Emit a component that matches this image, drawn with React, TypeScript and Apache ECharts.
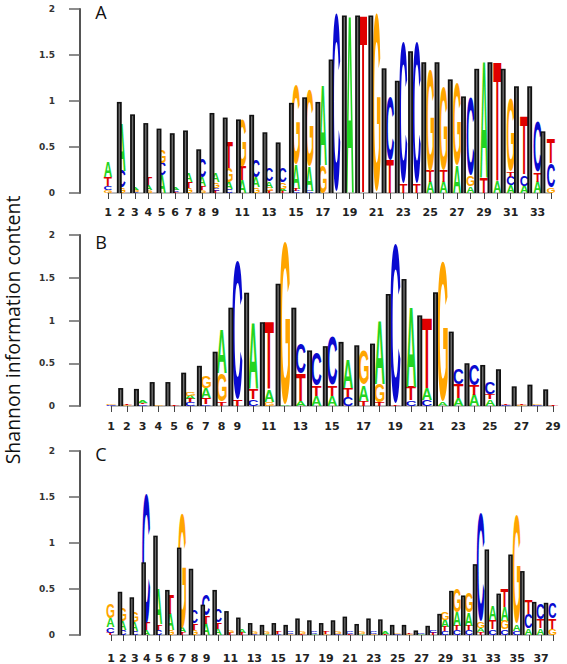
import React, { useEffect, useRef } from "react";
import * as echarts from "echarts";

type Stack = [string, number][];

const panelLabels = ["A", "B", "C"];
const yTitle = "Shannon information content";

// ---------- Panel A (34 positions) ----------
const barsA: (number | null)[] = [
  null, 0.99, 0.855, 0.76, 0.7, 0.65, 0.68, 0.475, 0.87, 0.82, 0.8, 0.85, 0.66, 0.55, 0.98, 1.04, 0.99,
  1.45, 1.93, 1.93, 1.93, 1.355, 1.22, 1.54, 1.42, 1.42, 1.235, 1.05, 1.35, 1.42, 1.35, 1.16, 1.16, 0.67,
];
const stacksA: Stack[] = [
  [["G", 0.03], ["C", 0.04], ["T", 0.1], ["A", 0.17]],
  [["G", 0.06], ["C", 0.18], ["A", 0.52]],
  [["C", 0.01], ["G", 0.02], ["A", 0.02]],
  [["G", 0.03], ["A", 0.06], ["T", 0.08]],
  [["A", 0.19], ["C", 0.14], ["G", 0.14]],
  [["T", 0.01], ["C", 0.02], ["A", 0.02]],
  [["G", 0.05], ["T", 0.07], ["A", 0.1]],
  [["G", 0.03], ["T", 0.04], ["A", 0.1], ["C", 0.2]],
  [["T", 0.02], ["C", 0.03], ["G", 0.06], ["A", 0.1]],
  [["C", 0.04], ["A", 0.08], ["G", 0.15], ["T", 0.28]],
  [["A", 0.14], ["T", 0.15], ["G", 0.52]],
  [["G", 0.06], ["A", 0.11], ["C", 0.18]],
  [["T", 0.02], ["G", 0.04], ["A", 0.07], ["C", 0.14]],
  [["T", 0.02], ["A", 0.03], ["G", 0.07], ["C", 0.15]],
  [["C", 0.02], ["T", 0.02], ["A", 0.27], ["G", 0.86]],
  [["C", 0.02], ["A", 0.27], ["G", 0.83]],
  [["G", 0.3], ["A", 0.87]],
  [["C", 1.93]],
  [["A", 1.93]],
  [["T", 1.93]],
  [["G", 1.93]],
  [["T", 0.36], ["C", 0.69]],
  [["T", 0.1], ["C", 1.53]],
  [["T", 0.1], ["C", 1.53]],
  [["A", 0.12], ["T", 0.12], ["G", 1.1]],
  [["A", 0.12], ["T", 0.12], ["G", 0.9]],
  [["A", 0.3], ["G", 0.89]],
  [["A", 0.07], ["G", 0.12], ["C", 0.84]],
  [["T", 0.17], ["A", 1.27]],
  [["A", 0.12], ["T", 1.3]],
  [["A", 0.08], ["C", 0.1], ["T", 0.06], ["G", 0.78]],
  [["A", 0.08], ["C", 0.12], ["T", 0.63]],
  [["A", 0.12], ["T", 0.1], ["C", 0.55]],
  [["G", 0.06], ["C", 0.26], ["T", 0.26]],
];

// ---------- Panel B (29 positions) ----------
const barsB: (number | null)[] = [
  null, 0.21, 0.2, 0.28, 0.28, 0.39, 0.47, 0.635, 1.15, 1.325, 0.98, 1.43, 1.15, 0.65, 0.7, 0.75, 0.71,
  0.73, 1.31, 1.485, 1.06, 1.33, 0.87, 0.5, 0.48, 0.43, 0.23, 0.25, 0.195,
];
const stacksB: Stack[] = [
  [["C", 0.01], ["G", 0.02]],
  [["G", 0.01], ["T", 0.02]],
  [["C", 0.02], ["T", 0.02], ["A", 0.03]],
  [["G", 0.01]],
  [["T", 0.01]],
  [["C", 0.04], ["T", 0.04], ["A", 0.04], ["G", 0.05]],
  [["C", 0.02], ["T", 0.07], ["A", 0.12], ["G", 0.14]],
  [["T", 0.05], ["G", 0.33], ["A", 0.51]],
  [["T", 0.08], ["C", 1.62]],
  [["C", 0.08], ["T", 0.12], ["A", 0.77]],
  [["G", 0.05], ["A", 0.14], ["T", 0.79]],
  [["A", 0.02], ["G", 1.9]],
  [["A", 0.06], ["T", 0.31], ["C", 0.36]],
  [["A", 0.12], ["T", 0.12], ["C", 0.38]],
  [["A", 0.12], ["T", 0.12], ["C", 0.57]],
  [["C", 0.1], ["T", 0.1], ["A", 0.34]],
  [["T", 0.06], ["A", 0.18], ["G", 0.4]],
  [["T", 0.04], ["G", 0.22], ["A", 0.74]],
  [["T", 0.02], ["C", 1.86]],
  [["C", 0.06], ["T", 0.16], ["A", 0.94]],
  [["C", 0.07], ["A", 0.14], ["T", 0.82]],
  [["A", 0.05], ["G", 1.64]],
  [["A", 0.09], ["T", 0.16], ["C", 0.18]],
  [["A", 0.13], ["T", 0.12], ["C", 0.25]],
  [["A", 0.08], ["T", 0.06], ["C", 0.13]],
  [["C", 0.01], ["T", 0.01]],
  [["G", 0.01], ["T", 0.01]],
  [["C", 0.01], ["G", 0.01]],
  [["T", 0.01]],
];

// ---------- Panel C (38 positions) ----------
const barsC: (number | null)[] = [
  null, 0.47, 0.41, 0.79, 1.08, 0.49, 0.95, 0.72, 0.33, 0.49, 0.26, 0.19, 0.13, 0.11, 0.13, 0.11, 0.18,
  0.16, 0.13, 0.16, 0.2, 0.12, 0.18, 0.17, 0.11, 0.11, 0.05, 0.1, 0.23, 0.48, 0.43, 0.77, 0.93, 0.45,
  0.875, 0.695, 0.36, 0.35,
];
const stacksC: Stack[] = [
  [["T", 0.02], ["C", 0.06], ["A", 0.1], ["G", 0.15]],
  [["C", 0.05], ["A", 0.1], ["G", 0.14]],
  [["C", 0.04], ["A", 0.1], ["G", 0.12]],
  [["A", 0.05], ["T", 0.08], ["C", 1.41]],
  [["C", 0.06], ["T", 0.06], ["A", 0.38]],
  [["G", 0.05], ["A", 0.18], ["T", 0.21]],
  [["T", 0.03], ["A", 0.05], ["G", 1.25]],
  [["G", 0.06], ["T", 0.07], ["C", 0.14]],
  [["A", 0.12], ["T", 0.09], ["C", 0.23]],
  [["A", 0.07], ["T", 0.07], ["C", 0.14]],
  [["T", 0.02], ["G", 0.03]],
  [["T", 0.02], ["A", 0.04]],
  [["C", 0.01], ["G", 0.02]],
  [["A", 0.01], ["G", 0.02]],
  [["C", 0.01], ["T", 0.02]],
  [["G", 0.01], ["C", 0.02]],
  [["T", 0.01], ["G", 0.02]],
  [["A", 0.01], ["C", 0.02]],
  [["G", 0.01], ["T", 0.02]],
  [["C", 0.01], ["G", 0.02]],
  [["T", 0.01], ["C", 0.02]],
  [["A", 0.01], ["G", 0.02]],
  [["G", 0.01], ["C", 0.02]],
  [["T", 0.01], ["A", 0.02]],
  [["C", 0.01], ["G", 0.01]],
  [["G", 0.01], ["T", 0.01]],
  [["A", 0.01], ["C", 0.01]],
  [["T", 0.02], ["C", 0.03]],
  [["C", 0.04], ["T", 0.05], ["A", 0.08], ["G", 0.09]],
  [["C", 0.05], ["T", 0.05], ["A", 0.15], ["G", 0.25]],
  [["C", 0.05], ["T", 0.05], ["A", 0.14], ["G", 0.22]],
  [["T", 0.03], ["A", 0.04], ["G", 0.07], ["C", 1.17]],
  [["C", 0.06], ["T", 0.1], ["A", 0.16]],
  [["C", 0.06], ["G", 0.1], ["A", 0.15], ["T", 0.2]],
  [["C", 0.04], ["A", 0.07], ["G", 1.17]],
  [["A", 0.07], ["C", 0.16], ["T", 0.16]],
  [["A", 0.07], ["T", 0.1], ["C", 0.17]],
  [["G", 0.07], ["T", 0.11], ["C", 0.17]],
];

const panelBars = [barsA, barsB, barsC];
const panelStacks = [stacksA, stacksB, stacksC];

const LETTER_COLORS: Record<string, string> = {
  A: "#22d422",
  C: "#0a0ad0",
  G: "#ffa500",
  T: "#e00000",
};
const LETTER_FONT = "Liberation Sans";
const LETTER_SIZE = 100;

// layout per panel
const LAYOUT = [
  { top: 9, height: 184, left: 108, right: 16, xOff: 9, yOff: 28, lblMargin: 5, barMin: 1.1465, barMax: 34.61, barW: 0.37, letC: 0, letW: 0.6, lab: [101, 11.5] },
  { top: 235, height: 171, left: 111, right: 14, xOff: 8, yOff: 31, lblMargin: 7, barMin: 1.3837, barMax: 29.465, barW: 0.32, letC: 0.01, letW: 0.64, lab: [101, 241.5] },
  { top: 451, height: 185, left: 111, right: 14, xOff: 10, yOff: 31, lblMargin: 8, barMin: 1.2397, barMax: 38.59, barW: 0.38, letC: -0.05, letW: 0.66, lab: [101, 453.5] },
];

function measureLetters() {
  const c = document.createElement("canvas");
  const ctx = c.getContext("2d") as CanvasRenderingContext2D;
  ctx.font = `bold ${LETTER_SIZE}px "${LETTER_FONT}"`;
  ctx.textAlign = "center";
  ctx.textBaseline = "alphabetic";
  const m: Record<string, { a: number; d: number; l: number; r: number }> = {};
  let fa = 0;
  let fd = 0;
  for (const L of ["A", "C", "G", "T"]) {
    const t = ctx.measureText(L);
    m[L] = {
      a: t.actualBoundingBoxAscent,
      d: t.actualBoundingBoxDescent,
      l: t.actualBoundingBoxLeft,
      r: t.actualBoundingBoxRight,
    };
    fa = t.fontBoundingBoxAscent;
    fd = t.fontBoundingBoxDescent;
  }
  return { m, fa, fd };
}

export default function App() {
  const ref = useRef<HTMLDivElement>(null);
  useEffect(() => {
    if (!ref.current) return;
    const chart = echarts.init(ref.current, null, { renderer: "svg" });
    const { m: metrics, fa, fd } = measureLetters();
    // local y of the alphabetic baseline for a text drawn with vertical align "middle" at y=0
    const calib = { base: (fa - fd) / 2 };

    const buildOption = () => {
      const grids: any[] = [];
      const xAxes: any[] = [];
      const yAxes: any[] = [];
      const series: any[] = [];

      LAYOUT.forEach((L, i) => {
        const n = panelStacks[i].length;
        grids.push({ left: L.left, right: L.right, top: L.top, height: L.height });
        xAxes.push({
          gridIndex: i,
          type: "value",
          min: 1,
          max: n,
          interval: 1,
          position: "bottom",
          offset: L.xOff,
          splitLine: { show: false },
          axisLine: { show: true, lineStyle: { color: "#a8a8a8", width: 1.5 } },
          axisTick: { show: true, length: 6, lineStyle: { color: "#444", width: 1 } },
          axisLabel: {
            margin: L.lblMargin,
            fontSize: 11,
            fontWeight: "bold",
            fontFamily: "DejaVu Sans",
            color: "#222",
            formatter: (v: number) => (v <= 9 || v % 2 === 1 ? String(v) : ""),
          },
        });
        xAxes.push({ gridIndex: i, type: "value", min: L.barMin, max: L.barMax, show: false });
        yAxes.push({
          gridIndex: i,
          type: "value",
          min: 0,
          max: 2,
          interval: 0.5,
          offset: L.yOff,
          splitLine: { show: false },
          axisLine: { show: true, lineStyle: { color: "#555", width: 2 } },
          axisTick: { show: true, length: 11, lineStyle: { color: "#666", width: 1.5 } },
          axisLabel: {
            margin: 25,
            fontSize: 9,
            fontWeight: "bold",
            fontFamily: "DejaVu Sans",
            color: "#333",
          },
        });

        const stacks = panelStacks[i];
        series.push({
          type: "custom",
          xAxisIndex: 2 * i,
          yAxisIndex: i,
          silent: true,
          data: stacks.map((s, k) => [k + 1, s.reduce((acc, e) => acc + e[1], 0)]),
          renderItem: (params: any, api: any) => {
            const pos = api.value(0);
            const stack = stacks[params.dataIndex];
            const unitW = api.size([1, 0])[0];
            const cx = api.coord([pos, 0])[0] + L.letC * unitW;
            const w = L.letW * unitW;
            let cum = 0;
            const children: any[] = [];
            for (const [letter, h] of stack) {
              const yBot = api.coord([pos, cum])[1];
              const yTop = api.coord([pos, cum + h])[1];
              cum += h;
              const mm = metrics[letter];
              const sx = w / (mm.l + mm.r);
              const sy = (yBot - yTop) / (mm.a + mm.d);
              const glyphTopLocal = calib.base - mm.a;
              children.push({
                type: "text",
                x: cx - w / 2 + mm.l * sx,
                y: yTop - glyphTopLocal * sy,
                scaleX: sx,
                scaleY: sy,
                style: {
                  text: letter,
                  fill: LETTER_COLORS[letter],
                  fontSize: LETTER_SIZE,
                  fontWeight: "bold",
                  fontFamily: LETTER_FONT,
                  textAlign: "center",
                  textVerticalAlign: "middle",
                },
              });
            }
            return { type: "group", children };
          },
        });

        const bars = panelBars[i];
        series.push({
          type: "custom",
          xAxisIndex: 2 * i + 1,
          yAxisIndex: i,
          silent: true,
          data: bars
            .map((v, k) => (v == null ? null : [k + 1, v]))
            .filter((d) => d !== null),
          renderItem: (params: any, api: any) => {
            const pos = api.value(0);
            const v = api.value(1);
            const unitW = api.size([1, 0])[0];
            const [xc, yTop] = api.coord([pos, v]);
            const yBot = api.coord([pos, 0])[1];
            const bw = L.barW * unitW;
            const x0 = xc - bw / 2;
            const h = yBot - yTop;
            return {
              type: "group",
              children: [
                { type: "rect", shape: { x: x0, y: yTop, width: bw, height: h }, style: { fill: "#111111" } },
                {
                  type: "rect",
                  shape: { x: x0 + bw * 0.36, y: yTop + 1.5, width: bw * 0.28, height: Math.max(0, h - 1.5) },
                  style: { fill: "#6f6f6f" },
                },
              ],
            };
          },
        });
      });

      const graphic: any[] = LAYOUT.map((L, i) => ({
        type: "text",
        x: L.lab[0],
        y: L.lab[1],
        style: {
          text: panelLabels[i],
          fill: "#111",
          fontSize: 18,
          fontFamily: "Open Sans",
          textAlign: "center",
          textVerticalAlign: "middle",
        },
      }));
      graphic.push({
        type: "text",
        x: 12,
        y: 330,
        rotation: Math.PI / 2,
        style: {
          text: yTitle,
          fill: "#111",
          fontSize: 19.5,
          fontFamily: "Open Sans",
          textAlign: "center",
          textVerticalAlign: "middle",
        },
      });

      return {
        animation: false,
        backgroundColor: "#ffffff",
        grid: grids,
        xAxis: xAxes,
        yAxis: yAxes,
        series,
        graphic,
      };
    };

    chart.setOption(buildOption());

    // calibrate the baseline of rendered letter texts from the actual SVG output
    const calibrate = () => {
      if (!ref.current) return false;
      const texts = Array.from(ref.current.querySelectorAll("text")) as SVGTextElement[];
      for (const el of texts) {
        const txt = (el.textContent || "").trim();
        if (!(txt in metrics)) continue;
        const fs = parseFloat(window.getComputedStyle(el).fontSize);
        if (Math.abs(fs - LETTER_SIZE) > 0.5) continue;
        const bb = el.getBBox();
        if (!bb || bb.height <= 0) continue;
        const b1 = bb.y + fa;
        const b2 = bb.y + bb.height - fd;
        const newBase = (b1 + b2) / 2;
        if (Math.abs(newBase - calib.base) > 0.2) {
          calib.base = newBase;
          chart.setOption(buildOption(), true);
        }
        return true;
      }
      return false;
    };
    if (!calibrate()) {
      requestAnimationFrame(() => calibrate());
    }

    return () => chart.dispose();
  }, []);

  return (
    <div
      ref={ref}
      style={{ position: "absolute", left: 0, top: 0, width: 567, height: 664 }}
    />
  );
}
